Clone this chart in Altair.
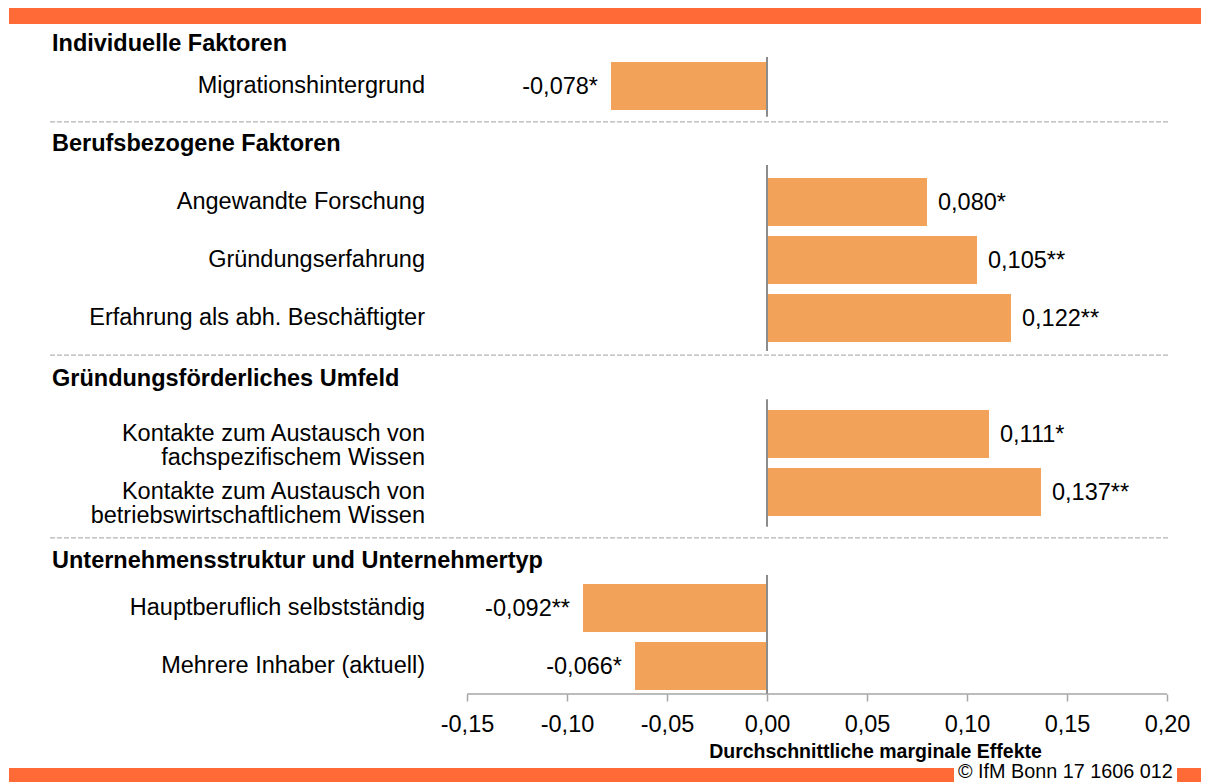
import altair as alt
import pandas as pd

# ---------------- data ----------------
sections = [
    "Individuelle Faktoren",
    "Berufsbezogene Faktoren",
    "Gründungsförderliches Umfeld",
    "Unternehmensstruktur und Unternehmertyp",
]
labels = [
    "Migrationshintergrund",
    "Angewandte Forschung",
    "Gründungserfahrung",
    "Erfahrung als abh. Beschäftigter",
    "Kontakte zum Austausch von\nfachspezifischem Wissen",
    "Kontakte zum Austausch von\nbetriebswirtschaftlichem Wissen",
    "Hauptberuflich selbstständig",
    "Mehrere Inhaber (aktuell)",
]
label_section = [0, 1, 1, 1, 2, 2, 3, 3]
values = [-0.078, 0.080, 0.105, 0.122, 0.111, 0.137, -0.092, -0.066]
stars = ["*", "*", "**", "**", "*", "**", "**", "*"]
ticks = [-0.15, -0.10, -0.05, 0.0, 0.05, 0.10, 0.15, 0.20]
axis_title = "Durchschnittliche marginale Effekte"
source_note = "© IfM Bonn 17 1606 012"

# ---------------- layout constants (row units) ----------------
HEADER_NUDGE = [0.28, 0.0, 0.05, 0.19]
SEP_AFTER = [0.62, 0.64, 0.79]
ZERO_TOP = [-0.5, -0.64, -0.6, -0.57]
ZERO_BOTTOM = [0.53, 0.57, 0.6, 0.48]
HALF_BAR = 24 / 58

FONT = "Liberation Sans"
BAR_COLOR = "#F3A25A"
ORANGE = "#FF6A36"

W, H = 1193, 686
# x: -0.15 at px 459, 0.20 at px 1159  -> 2000 px per unit
X_DOM = [-0.15 - 459 / 2000, -0.15 + (W - 459) / 2000]
# y: row r at px 78 + 58 r
Y_DOM = [-78 / 58, (H - 78) / 58]

# every section header takes one row slot, followed by its items
slot = -2
rows = []
header_pos = []
for s in range(len(sections)):
    slot += 1
    header_pos.append(slot + HEADER_NUDGE[s])
    for sec in label_section:
        if sec == s:
            slot += 1
            rows.append(slot)

bars_df = pd.DataFrame({
    "label": labels,
    "value": values,
    "row": rows,
    "lo": [r - HALF_BAR for r in rows],
    "hi": [r + HALF_BAR for r in rows],
    "zero": [0.0] * len(values),
    "text": [f"{v:.3f}".replace(".", ",") + st for v, st in zip(values, stars)],
})

headers_df = pd.DataFrame({"name": sections, "pos": header_pos})

sec_rows = [[r for r, sec in zip(rows, label_section) if sec == s] for s in range(len(sections))]
sep_df = pd.DataFrame({"pos": [max(sec_rows[s]) + SEP_AFTER[s] for s in range(len(sections) - 1)]})
zero_df = pd.DataFrame({
    "zero": [0.0] * len(sections),
    "top": [min(sec_rows[s]) + ZERO_TOP[s] for s in range(len(sections))],
    "bottom": [max(sec_rows[s]) + ZERO_BOTTOM[s] for s in range(len(sections))],
})
axis_df = pd.DataFrame({"a": [ticks[0]], "b": [ticks[-1]], "r": [Y_DOM[1]]})

xs = alt.Scale(domain=X_DOM, nice=False, zero=False)
ys = alt.Scale(domain=Y_DOM, nice=False, zero=False, reverse=True)

label_expr = "(datum.value < -0.0001 ? '-' : '') + replace(format(abs(datum.value), '.2f'), '.', ',')"
x_axis = alt.Axis(
    values=ticks, labelExpr=label_expr, title=axis_title,
    titleFont=FONT, titleFontSize=19.5, titleFontWeight="bold", titleColor="#000000",
    titleX=867, titleY=57, titleAlign="center", titleBaseline="middle",
    labelFont=FONT, labelFontSize=23.5, labelColor="#000000", labelPadding=11,
    labelFlush=False, labelOverlap=False, domain=False,
    tickColor="#A6A6A6", tickWidth=1.5, tickSize=7,
    grid=False,
)

bars = alt.Chart(bars_df).mark_bar(color=BAR_COLOR).encode(
    x=alt.X("value:Q", scale=xs, axis=x_axis),
    x2="zero:Q",
    y=alt.Y("lo:Q", scale=ys, axis=None),
    y2="hi:Q",
)

axis_line = alt.Chart(axis_df).mark_rule(color="#A6A6A6", strokeWidth=1.5).encode(
    x=alt.X("a:Q", scale=xs, axis=x_axis), x2="b:Q",
    y=alt.Y("r:Q", scale=ys, axis=None),
)

zero_rule = alt.Chart(zero_df).mark_rule(color="#8C8C8C", strokeWidth=2).encode(
    x=alt.X("zero:Q", scale=xs, axis=x_axis),
    y=alt.Y("top:Q", scale=ys, axis=None),
    y2="bottom:Q",
)

seps = alt.Chart(sep_df).mark_rule(color="#B4B4B4", strokeWidth=1.2, strokeDash=[5, 2]).encode(
    x=alt.value(42), x2=alt.value(1160),
    y=alt.Y("pos:Q", scale=ys, axis=None),
)

pos_text = alt.Chart(bars_df).transform_filter("datum.value >= 0").mark_text(
    align="left", baseline="middle", dx=11, dy=1, font=FONT, fontSize=23.5, color="#000000"
).encode(x=alt.X("value:Q", scale=xs, axis=x_axis), y=alt.Y("row:Q", scale=ys, axis=None), text="text:N")

neg_text = alt.Chart(bars_df).transform_filter("datum.value < 0").mark_text(
    align="right", baseline="middle", dx=-13, dy=1, font=FONT, fontSize=23.5, color="#000000"
).encode(x=alt.X("value:Q", scale=xs, axis=x_axis), y=alt.Y("row:Q", scale=ys, axis=None), text="text:N")

cat_text = alt.Chart(bars_df).mark_text(
    align="right", baseline="middle", font=FONT, fontSize=23.5, color="#000000",
    lineBreak="\n", lineHeight=24
).encode(x=alt.value(417), y=alt.Y("row:Q", scale=ys, axis=None), text="label:N")

head_text = alt.Chart(headers_df).mark_text(
    align="left", baseline="middle", font=FONT, fontSize=23.5, fontWeight="bold", color="#000000"
).encode(x=alt.value(44), y=alt.Y("pos:Q", scale=ys, axis=None), text="name:N")

band_df = pd.DataFrame({"k": [0]})
top_band = alt.Chart(band_df).mark_rule(color=ORANGE, strokeWidth=17).encode(
    x=alt.value(1), x2=alt.value(W), y=alt.value(7.5))
bot_band1 = alt.Chart(band_df).mark_rule(color=ORANGE, strokeWidth=14).encode(
    x=alt.value(1), x2=alt.value(946), y=alt.value(767))
bot_band2 = alt.Chart(band_df).mark_rule(color=ORANGE, strokeWidth=14).encode(
    x=alt.value(1169), x2=alt.value(W), y=alt.value(767))
note = alt.Chart(pd.DataFrame({"t": [source_note]})).mark_text(
    align="left", baseline="alphabetic", font=FONT, fontSize=19.8, color="#000000"
).encode(x=alt.value(950), y=alt.value(770), text="t:N")

chart = alt.layer(
    bars, axis_line, zero_rule, seps, pos_text, neg_text, cat_text, head_text,
    top_band, bot_band1, bot_band2, note,
).properties(
    width=W, height=H,
    autosize=alt.AutoSizeParams(type="none"),
    padding={"left": 0, "top": 0, "right": 0, "bottom": 88},
).configure_view(stroke=None)

chart.save("out.html", embed_options={"renderer": "svg", "actions": False})
